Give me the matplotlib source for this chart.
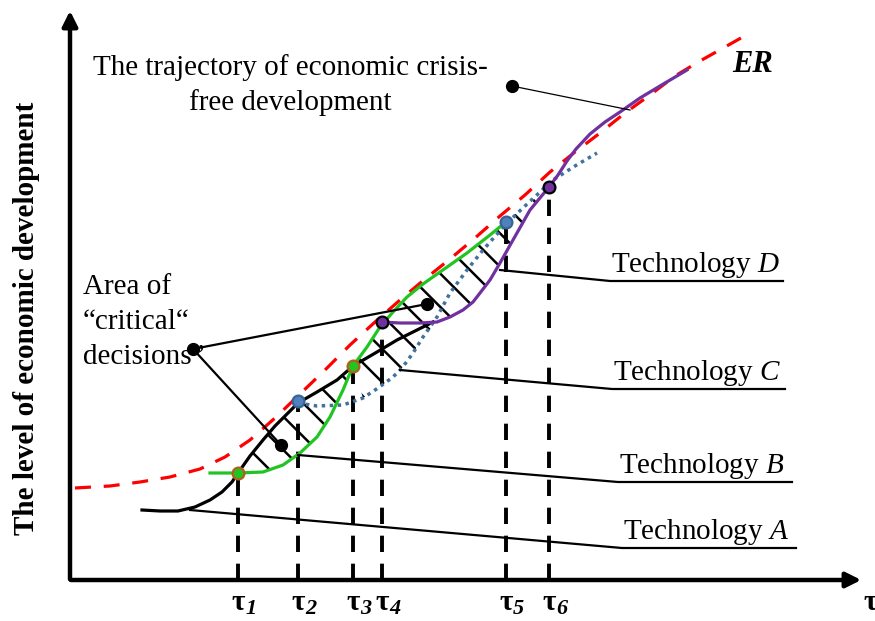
import numpy as np
import matplotlib.pyplot as plt
from matplotlib.patches import Polygon

plt.rcParams['font.family'] = ['Liberation Serif', 'DejaVu Serif']
plt.rcParams['mathtext.fontset'] = 'custom'
plt.rcParams['mathtext.rm'] = 'Liberation Serif'
plt.rcParams['mathtext.it'] = 'Liberation Serif:italic'
plt.rcParams['hatch.linewidth'] = 1.8

# trajectory of crisis-free development (ER)
er_t = [5, 40, 70, 100, 130, 155, 180, 205, 230, 255, 280, 305, 330, 355, 380, 405,
        430, 455, 480, 505, 530, 555, 580, 605, 630, 655, 678]
er_lvl = [92, 94, 98, 103, 111, 123, 140, 162, 186, 210, 235, 258, 280, 301, 321, 342,
          364, 385, 408, 428, 447, 467, 485, 504, 519, 533, 546]

# technology A (black)
a_t = [72, 90, 108, 125, 140, 152, 162, 168, 180, 193, 205, 217, 228, 247, 267, 283,
       307, 327, 347, 363]
a_lvl = [70, 69, 69, 73, 80, 88, 98, 107, 124, 140, 154, 166, 177, 188, 200, 214,
         228, 240, 250, 258]

# technology B (green)
b_t = [140, 168, 193, 213, 230, 247, 260, 273, 283, 297, 310, 323, 337, 353, 370, 397, 420, 436]
b_lvl = [107, 107, 108, 115, 127, 143, 163, 190, 214, 233, 253, 268, 283, 296, 308, 327, 345, 358]

# technology C (dotted blue)
c_t = [228, 247, 273, 293, 308, 323, 332, 343, 353, 367, 380, 397, 413, 436, 455, 483, 505, 527]
c_lvl = [177, 174, 175, 182, 192, 203, 212, 227, 243, 263, 287, 310, 330, 356, 374, 400, 414, 427]

# technology D (purple)
d_t = [312, 330, 350, 367, 380, 393, 403, 410, 420, 430, 443, 460, 479, 488, 497, 506,
       520, 535, 550, 570, 590, 617]
d_lvl = [258, 257, 257, 258, 263, 270, 278, 287, 300, 317, 340, 370, 393, 405, 419, 431,
         446, 458, 468, 482, 494, 510]

# switching moments tau1..tau6
tau_t = [168, 228, 283, 312, 436, 479]
tau_lvl = [107, 179, 214, 258, 358, 393]
tau_names = ['1', '2', '3', '4', '5', '6']
tau_face = ['#22C422', '#4F81BD', '#22C422', '#7030A0', '#4F81BD', '#7030A0']
tau_edge = ['#B0601C', '#3A6395', '#B0601C', 'black', '#3A6395', 'black']

green = '#22C422'
purple = '#7030A0'
blue = '#41719C'

fig = plt.figure(figsize=(8.75, 6.21), dpi=100)
ax = fig.add_axes([70 / 875, 41 / 621, 792 / 875, 570 / 621])
ax.set_xlim(0, 792)
ax.set_ylim(0, 570)
ax.axis('off')

a_t, a_lvl = np.array(a_t), np.array(a_lvl)
b_t, b_lvl = np.array(b_t), np.array(b_lvl)
c_t, c_lvl = np.array(c_t), np.array(c_lvl)
d_t, d_lvl = np.array(d_t), np.array(d_lvl)

# hatched areas of "critical" decisions
m_a = (a_t >= tau_t[0]) & (a_t <= tau_t[2])
m_b = (b_t >= tau_t[0]) & (b_t <= tau_t[2])
poly1 = np.vstack([np.column_stack([a_t[m_a], a_lvl[m_a]]),
                   np.column_stack([b_t[m_b], b_lvl[m_b]])[::-1]])
ax.add_patch(Polygon(poly1, closed=True, facecolor='none', edgecolor='black',
                     linewidth=0, hatch='\\', zorder=1))

m_b2 = b_t >= tau_t[2]
m_c2 = (c_t > tau_t[4]) & (c_t <= tau_t[5])
m_d2 = (d_t <= tau_t[5]) & (d_t >= 367)
m_c3 = (c_t >= 293) & (c_t < 367)
poly2 = np.vstack([np.column_stack([b_t[m_b2], b_lvl[m_b2]]),
                   np.column_stack([c_t[m_c2], c_lvl[m_c2]]),
                   np.column_stack([d_t[m_d2], d_lvl[m_d2]])[::-1],
                   np.column_stack([c_t[m_c3], c_lvl[m_c3]])[::-1]])
ax.add_patch(Polygon(poly2, closed=True, facecolor='none', edgecolor='black',
                     linewidth=0, hatch='\\', zorder=1))

# vertical dashed lines down to the time axis
for t, lv in zip(tau_t, tau_lvl):
    ax.plot([t, t], [0, lv], color='black', lw=2.8, ls=(0, (4.2, 3)), zorder=2)

ax.plot(er_t, er_lvl, color='red', lw=2.3, ls=(0, (5, 4)), zorder=3)
ax.plot(a_t, a_lvl, color='black', lw=2.3, zorder=4)
ax.plot(c_t, c_lvl, color=blue, lw=2.5, ls=(0, (1, 1.3)), zorder=4)
ax.plot(b_t, b_lvl, color=green, lw=2.3, zorder=5)
ax.plot(d_t, d_lvl, color=purple, lw=2.3, zorder=5)

for t, lv, fc, ec in zip(tau_t, tau_lvl, tau_face, tau_edge):
    ax.plot(t, lv, 'o', ms=8.5, mfc=fc, mec=ec, mew=1.6, zorder=7)

# leader lines and labels
ax.plot([442, 560], [494, 470], color='black', lw=0.9, zorder=6)
ax.plot(442, 494, 'o', color='black', ms=8.5, zorder=7)
ax.text(220, 512, 'The trajectory of economic crisis-', fontsize=21, ha='center', va='center')
ax.text(220, 477, 'free development', fontsize=21, ha='center', va='center')
ax.text(683, 516, 'ER', fontsize=22, fontweight='bold', style='italic', ha='center', va='center')

ax.plot([123, 357], [231, 276], color='black', lw=1.6, zorder=6)
ax.plot([123, 211], [231, 135], color='black', lw=1.6, zorder=6)
ax.plot([123, 211, 357], [231, 135, 276], 'o', color='black', ms=8.5, zorder=7)
ax.text(13, 293, 'Area of', fontsize=21, ha='left', va='center')
ax.text(13, 258, '\u201ccritical\u201c', fontsize=21, ha='left', va='center')
ax.text(13, 223, 'decisions\u201d', fontsize=21, ha='left', va='center')

tech_names = ['D', 'C', 'B', 'A']
leader_from = [(430, 310), (330, 210), (228, 125), (120, 70)]
underline = [(540, 713, 299), (542, 715, 191), (548, 722, 98), (552, 726, 32)]
for name, (x0, y0), (u0, u1, uy) in zip(tech_names, leader_from, underline):
    ax.plot([x0, u0, u1], [y0, uy, uy], color='black', lw=1.6, zorder=6)
    ax.text(u0 + 1, uy + 9, 'Technology $\\mathit{' + name + '}$', fontsize=21,
            ha='left', va='baseline')

# axes with arrows
ax.annotate('', xy=(0, 572), xytext=(0, -2), annotation_clip=False,
            arrowprops=dict(arrowstyle='-|>,head_length=0.9,head_width=0.45', lw=3.2, color='black'))
ax.annotate('', xy=(794, 0), xytext=(-2, 0), annotation_clip=False,
            arrowprops=dict(arrowstyle='-|>,head_length=0.9,head_width=0.45', lw=3.2, color='black'))
ax.text(800, -23, '\u03c4', fontsize=21, fontweight='bold', ha='center', va='center', clip_on=False)
ax.text(-43, 262, 'The level of economic development', fontsize=21, fontweight='bold',
        rotation=90, ha='center', va='center', clip_on=False)

for t, name in zip(tau_t, tau_names):
    ax.text(t, -22, '\u03c4', fontsize=21, fontweight='bold', ha='center', va='center', clip_on=False)
    ax.text(t + 7, -29, name, fontsize=16, fontweight='bold', style='italic',
            ha='left', va='center', clip_on=False)

fig.savefig('out.png', dpi=100)
